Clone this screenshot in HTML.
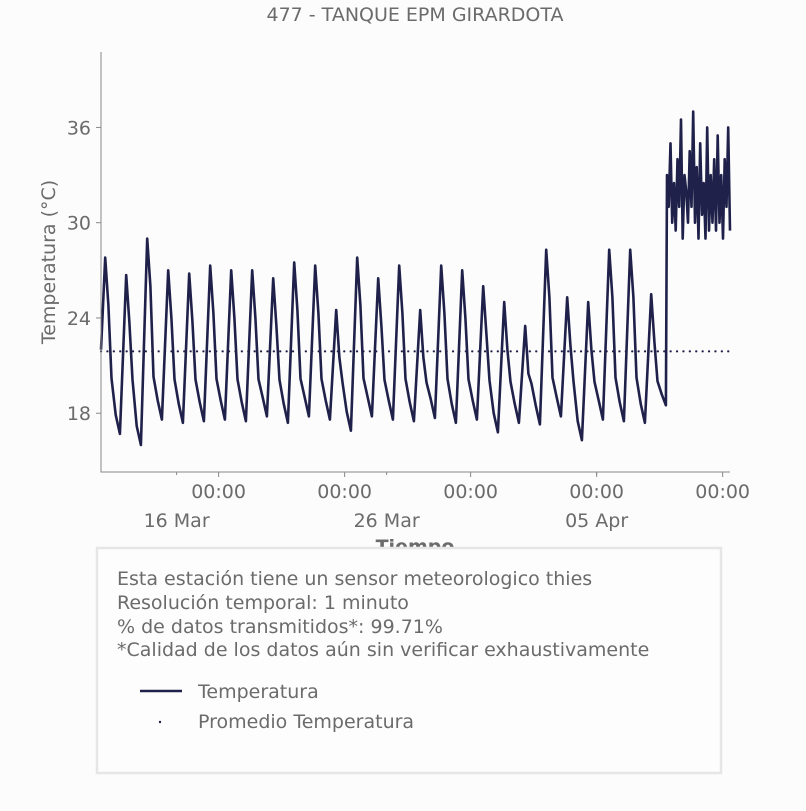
<!DOCTYPE html>
<html><head><meta charset="utf-8">
<style>
body{margin:0;background:#fcfcfc;font-family:"Liberation Sans","DejaVu Sans",sans-serif;}
svg text{font-family:"DejaVu Sans","Liberation Sans",sans-serif;fill:#6b6b6b;}
</style></head>
<body>
<svg width="806" height="806" viewBox="0 0 806 806">
<rect width="806" height="806" fill="#fcfcfc"/>
<text x="415" y="21" font-size="19" text-anchor="middle">477 - TANQUE EPM GIRARDOTA</text>
<g id="plot"></g>
<g id="axes"></g>
<text x="415" y="553" font-size="19" font-weight="bold" text-anchor="middle">Tiempo</text>
<text transform="translate(55,262) rotate(-90)" font-size="19" text-anchor="middle">Temperatura (°C)</text>
<rect x="97" y="548" width="624" height="225" fill="#fdfdfd" stroke="#e6e6e6" stroke-width="2.5"/>
<text x="117" y="585" font-size="19">Esta estación tiene un sensor meteorologico thies</text>
<text x="117" y="609" font-size="19">Resolución temporal: 1 minuto</text>
<text x="117" y="633" font-size="19">% de datos transmitidos*: 99.71%</text>
<text x="117" y="656" font-size="19">*Calidad de los datos aún sin verificar exhaustivamente</text>
<line x1="140" y1="691" x2="182" y2="691" stroke="#20214a" stroke-width="2.5"/>
<text x="198" y="698" font-size="19">Temperatura</text>
<circle cx="160" cy="722" r="1.2" fill="#20214a"/>
<text x="198" y="728" font-size="19">Promedio Temperatura</text>
</svg>
<script>
const dailyMax=[27.8,26.7,29.0,27.0,26.8,27.3,27.0,27.0,26.5,27.5,27.3,24.5,27.8,26.5,27.3,24.5,27.3,27.0,26.0,25.0,23.5,28.3,25.3,25.0,28.3,28.3,25.5];
const dailyMin=[21.5,16.7,16.0,17.6,17.4,17.5,17.6,17.5,17.8,17.4,17.8,17.6,16.9,17.8,17.6,17.5,17.7,17.4,17.6,16.8,17.4,17.3,17.8,16.3,17.6,17.5,17.4];
const hotTemps=[33,31,35,30,32.5,29.5,34,31,36.5,29,33,32,30,34.5,31,37,30,33.5,29,35,30.5,32.5,29,36,29.5,33,30,34,29.5,35.5,30,33,29,34,31,36,29.5];
const meanTemp=21.9;
const yTicks=[18,24,30,36];
const hourTicks=["00:00","00:00","00:00","00:00","00:00"];
const hourTickDays=[5.6,11.6,17.6,23.6,29.6];
const dateLabels=["16 Mar","26 Mar","05 Apr"];
const dateTickDays=[3.6,13.6,23.6];
const totalDays=29.95;

const X0=101,X1=730,Y0=472,Y1=52,T0=14.3,T1=40.75;
const xs=d=>X0+(X1-X0)*d/totalDays;
const ys=t=>Y0-(Y0-Y1)*(t-T0)/(T1-T0);
const NS="http://www.w3.org/2000/svg";
const plot=document.getElementById('plot'),axes=document.getElementById('axes');
function mk(tag,attrs,parent){const e=document.createElementNS(NS,tag);for(const k in attrs)e.setAttribute(k,attrs[k]);parent.appendChild(e);return e;}

// build temperature series
let pts=[[0,22]];
for(let k=0;k<dailyMax.length;k++){
  if(k>0) pts.push([k-0.1,dailyMin[k]]);
  pts.push([k+0.2,dailyMax[k]]);
  pts.push([k+0.35,dailyMax[k]-3]);
  pts.push([k+0.5,19.5+(dailyMax[k]-19)*0.08]);
  pts.push([k+0.7,(dailyMin[k+1]||18)+1.2]);
}
pts.push([26.9,18.5]);
const hotStart=26.95;
hotTemps.forEach((t,i)=>pts.push([hotStart+i*(totalDays-hotStart)/(hotTemps.length-1),t]));
let d="";
pts.forEach((p,i)=>{d+=(i?"L":"M")+xs(p[0]).toFixed(1)+","+ys(p[1]).toFixed(1);});
const line=mk('path',{d:d,fill:"none",stroke:"#20214a","stroke-width":2.6,"stroke-linejoin":"round"},plot);


const mean=mk('line',{x1:X0,x2:X1,y1:ys(meanTemp),y2:ys(meanTemp),stroke:"#20214a","stroke-width":2.2,"stroke-dasharray":"0.1 6.3","stroke-linecap":"round"},plot);



// axes
const ax=mk('path',{d:`M${X0},${Y1}V${Y0}H${X1}`,fill:"none",stroke:"#888","stroke-width":1},axes);


yTicks.forEach(t=>{
  const y=ys(t);
  const tk=mk('line',{x1:X0-5,x2:X0,y1:y,y2:y,stroke:"#888"},axes);
  
  
  const tx=mk('text',{x:X0-10,y:y+7,"font-size":19,"text-anchor":"end"},axes);
  tx.textContent=t;
  
  
});
hourTicks.forEach((l,i)=>{
  const x=xs(hourTickDays[i]);
  const tk=mk('line',{x1:x,x2:x,y1:Y0,y2:Y0+5,stroke:"#888"},axes);
  
  
  const tx=mk('text',{x:x,y:498,"font-size":19,"text-anchor":"middle"},axes);
  tx.textContent=l;
  
  
});
dateLabels.forEach((l,i)=>{
  const x=xs(dateTickDays[i]);
  const tk=mk('line',{x1:x,x2:x,y1:Y0,y2:Y0+3,stroke:"#888"},axes);
  
  
  const tx=mk('text',{x:x,y:527,"font-size":19,"text-anchor":"middle"},axes);
  tx.textContent=l;
  
  
});
</script>
</body></html>
